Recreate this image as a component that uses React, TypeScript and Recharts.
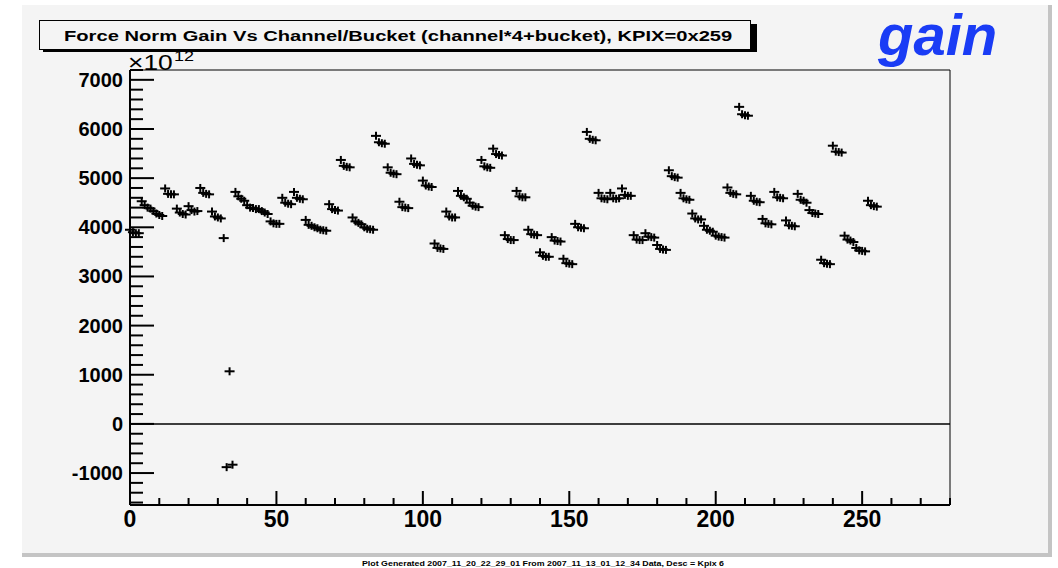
import React from "react";
import {
  ScatterChart, Scatter, XAxis, YAxis, ReferenceLine, ReferenceArea,
} from "recharts";

// gain values (units of 1e12) per channel, one array per bucket
const bucket0 = [
  3950, 4530, 4330, 4790, 4380, 4430, 4800, 4320, 3780, 4720, 4450, 4370, 4120, 4600, 4720, 4150,
  3980, 4470, 5370, 4200, 4000, 5860, 5220, 4520, 5400, 4950, 3670, 4320, 4740, 4500, 5370, 5600,
  3840, 4740, 3950, 3490, 3800, 3360, 4070, 5940, 4700, 4700, 4790, 3840, 3880, 3640, 5160, 4700,
  4280, 4030, 3830, 4810, 6450, 4640, 4170, 4720, 4140, 4680, 4350, 3340, 5660, 3830, 3580, 4540,
];
const bucket1 = [
  3900, 4450, 4280, 4680, 4300, 4350, 4700, 4220, -880, 4630, 4400, 4330, 4080, 4500, 4600, 4050,
  3950, 4370, 5250, 4120, 3970, 5730, 5110, 4410, 5290, 4850, 3580, 4220, 4640, 4440, 5240, 5490,
  3760, 4630, 3860, 3420, 3730, 3270, 4000, 5800, 4590, 4590, 4660, 3750, 3810, 3560, 5040, 4590,
  4180, 3950, 3810, 4700, 6300, 4540, 4080, 4610, 4040, 4560, 4290, 3270, 5540, 3750, 3530, 4450,
];
const bucket2 = [
  3880, 4400, 4250, 4670, 4270, 4320, 4680, 4200, 1070, 4580, 4390, 4300, 4070, 4480, 4580, 4030,
  3940, 4350, 5230, 4090, 3960, 5710, 5090, 4400, 5270, 4830, 3570, 4200, 4610, 4420, 5220, 5470,
  3740, 4610, 3850, 3400, 3720, 3260, 3990, 5780, 4580, 4580, 4640, 3740, 3800, 3550, 5020, 4570,
  4160, 3930, 3800, 4680, 6280, 4520, 4070, 4600, 4030, 4540, 4280, 3260, 5530, 3730, 3520, 4430,
];
const bucket3 = [
  3880, 4380, 4230, 4670, 4260, 4330, 4670, 4180, -830, 4540, 4370, 4270, 4070, 4470, 4570, 4000,
  3930, 4340, 5220, 4060, 3950, 5700, 5080, 4390, 5260, 4820, 3560, 4200, 4580, 4410, 5210, 5460,
  3740, 4610, 3840, 3400, 3710, 3250, 3980, 5770, 4570, 4590, 4640, 3740, 3790, 3540, 5010, 4560,
  4160, 3910, 3790, 4670, 6270, 4510, 4060, 4590, 4020, 4500, 4270, 3250, 5520, 3700, 3510, 4420,
];

const xTicks = [0, 10, 20, 30, 40, 50, 60, 70, 80, 90, 100, 110, 120, 130, 140, 150, 160, 170, 180, 190, 200, 210, 220, 230, 240, 250, 260, 270, 280];
const yTicks = [
  -1600, -1400, -1200, -1000, -800, -600, -400, -200, 0, 200, 400, 600, 800, 1000, 1200, 1400, 1600, 1800,
  2000, 2200, 2400, 2600, 2800, 3000, 3200, 3400, 3600, 3800, 4000, 4200, 4400, 4600, 4800, 5000, 5200,
  5400, 5600, 5800, 6000, 6200, 6400, 6600, 6800, 7000, 7200,
];

const buckets = [bucket0, bucket1, bucket2, bucket3];
const data: { x: number; y: number }[] = [];
bucket0.forEach((_, ch) => {
  buckets.forEach((b, k) => data.push({ x: ch * 4 + k, y: b[ch] }));
});

const PLOT_LEFT = 130;
const PLOT_BOTTOM = 505;

const Plus = (props: any) => {
  const { cx, cy } = props;
  return (
    <g>
      <line x1={cx - 5} x2={cx + 5} y1={cy} y2={cy} stroke="#000" strokeWidth={2} />
      <line x1={cx} x2={cx} y1={cy - 4} y2={cy + 4} stroke="#000" strokeWidth={2} />
    </g>
  );
};

const YTick = (props: any) => {
  const { y, payload } = props;
  const major = payload.value % 1000 === 0;
  return (
    <g>
      <line x1={PLOT_LEFT} x2={PLOT_LEFT + (major ? 24 : 13)} y1={y} y2={y} stroke="#000" strokeWidth={2} />
      {major && (
        <text x={123} y={y + 7} textAnchor="end" fontSize={20} fontWeight="bold" fill="#000">
          {payload.value}
        </text>
      )}
    </g>
  );
};

const XTick = (props: any) => {
  const { x, payload } = props;
  const major = payload.value % 50 === 0;
  return (
    <g>
      <line x1={x} x2={x} y1={PLOT_BOTTOM} y2={PLOT_BOTTOM - (major ? 14 : 7)} stroke="#000" strokeWidth={2} />
      {major && (
        <text x={x} y={527} textAnchor="middle" fontSize={23} fontWeight="bold" fill="#000">
          {payload.value}
        </text>
      )}
    </g>
  );
};

export default function App() {
  return (
    <div style={{ position: "absolute", left: 0, top: 0, width: 1058, height: 568, background: "#fff", fontFamily: "'Liberation Sans', Arial, sans-serif", overflow: "hidden" }}>
      <div style={{ position: "absolute", left: 22, top: 5, width: 1026, height: 548, background: "#f4f4f4", borderRight: "4px solid #c4c4c4", borderBottom: "4px solid #c4c4c4" }} />
      <div style={{ position: "absolute", left: 43, top: 24, width: 714, height: 28, background: "#000" }} />
      <div style={{ position: "absolute", left: 39, top: 20, width: 710, height: 28, background: "#f4f4f4", border: "1px solid #000" }} />
      <div style={{ position: "absolute", left: 0, top: 0 }}>
        <ScatterChart width={1058} height={568} margin={{ top: 70, right: 108, bottom: 23, left: 70 }}>
          <ReferenceArea x1={0} x2={280} y1={-1650} y2={7200} fill="none" stroke="#000" strokeWidth={1} />
          <XAxis
            type="number"
            dataKey="x"
            domain={[0, 280]}
            ticks={xTicks}
            interval={0}
            height={40}
            tickLine={false}
            axisLine={{ stroke: "#000", strokeWidth: 2 }}
            tick={<XTick />}
          />
          <YAxis
            type="number"
            dataKey="y"
            domain={[-1650, 7200]}
            ticks={yTicks}
            interval={0}
            width={60}
            tickLine={false}
            axisLine={{ stroke: "#000", strokeWidth: 2 }}
            tick={<YTick />}
          />
          <ReferenceLine y={0} stroke="#000" strokeWidth={1.5} />
          <Scatter data={data} shape={<Plus />} isAnimationActive={false} />
        </ScatterChart>
      </div>
      <svg width={1058} height={568} style={{ position: "absolute", left: 0, top: 0 }}>
        <text transform="translate(64,41) scale(1.3,1)" fontSize={15.5} fontWeight="bold" fill="#000">
          Force Norm Gain Vs Channel/Bucket (channel*4+bucket), KPIX=0x259
        </text>
        <text x={878} y={55} fontSize={58} fontWeight="bold" fontStyle="italic" fill="#1a3cf5">
          gain
        </text>
        <text transform="translate(128,70) scale(1.2,1)" fontSize={22} fill="#000">
          ×10
        </text>
        <text transform="translate(174,61) scale(1.2,1)" fontSize={15} fill="#000">
          12
        </text>
        <text transform="translate(543,565.5) scale(1.36,1)" textAnchor="middle" fontSize={6.5} fontWeight="bold" fill="#000">
          Plot Generated 2007_11_20_22_29_01 From 2007_11_13_01_12_34 Data, Desc = Kpix 6
        </text>
      </svg>
    </div>
  );
}
